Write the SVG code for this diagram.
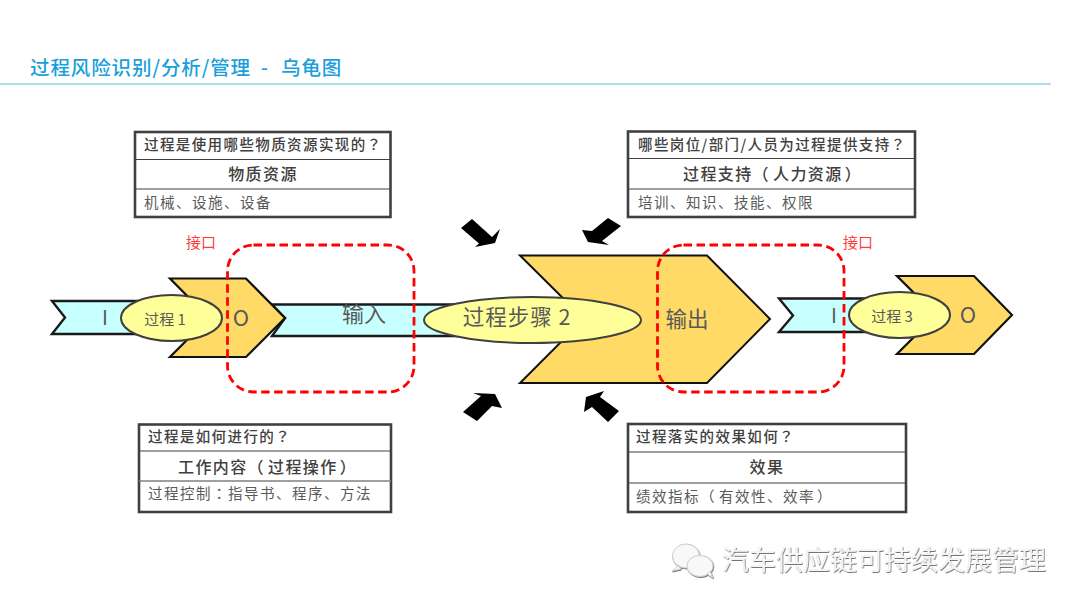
<svg xmlns="http://www.w3.org/2000/svg" width="1080" height="608" viewBox="0 0 1080 608">
<style>
text{font-family:"Noto Sans CJK SC","Noto Sans",sans-serif;fill:#404040}
.band{fill:#c8ffff;stroke:#1a1a1a;stroke-width:2.4}
.chev{fill:#ffda66;stroke:#111;stroke-width:2.2}
.ell{fill:#ffff99;stroke:#404040;stroke-width:2}
.iface{fill:none;stroke:#ff0000;stroke-width:2.8;stroke-dasharray:8.500 4.500}
.arrow{fill:#000}
.box{fill:#fff;stroke:#404040;stroke-width:2.6}
.div{stroke:#404040;stroke-width:1.2}
.q{font-size:14.5px;letter-spacing:1.4px;font-weight:500}
.h{font-size:16px;letter-spacing:1.4px;text-anchor:middle;font-weight:500}
.hs{font-size:16px;letter-spacing:1.4px;font-weight:500}
.d{font-size:14.5px;letter-spacing:1.5px;fill:#595959}
.p{font-family:"Noto Sans CJK TC","Noto Sans",sans-serif}
.lab{fill:#595959}
.red{font-size:15px;fill:#ff3b3b}
.mark{font-size:27px;fill:#f4f4f4}
</style>
<defs>
<filter id="emboss" x="-5%" y="-20%" width="110%" height="140%"><feDropShadow dx="0.6" dy="0.8" stdDeviation="0.5" flood-color="#555"/></filter>
</defs>
<rect width="1080" height="608" fill="#fff"/>
<g id="title">
<text x="30" y="75" font-size="19.5" letter-spacing="0.9" font-weight="500" style="fill:#1a9fdc">过程风险识别/分析/管理<tspan x="261" style="fill:#1a9fdc">-</tspan><tspan x="281" style="fill:#1a9fdc">乌龟图</tspan></text>
<line x1="0" y1="84" x2="1051" y2="84" stroke="#8bd5ee" stroke-width="1.6"/>
</g>
<g id="connectors">
<polygon class="arrow" points="461,228 472,219 492,237 500,229 495,243 475,247 479,243.500"/>
<polygon class="arrow" points="621,226 608,218 592,231 582,230 588,242 609,245 602,241"/>
<polygon class="arrow" points="463,412 477,421 492,406 502,408 495,394 473,393 481,396"/>
<polygon class="arrow" points="619,411 608,422 592,407 584,412 586,397 604,391 600,397"/>
</g>
<g id="process-1">
<polygon class="band" points="52,301 180,301 180,334 52,334 65,317.500"/>
<polygon class="band" points="272,304.500 470,304.500 470,336 272,336 285,318"/>
<polygon class="chev" points="170,278.500 246,278.500 285,318 246,357 170,357 209,318"/>
<ellipse class="ell" cx="171.500" cy="318" rx="50.500" ry="23"/>
<text class="lab" x="105" y="325" font-size="20" text-anchor="middle">I</text>
<text class="lab" x="165" y="325" font-size="15" text-anchor="middle">过程 1</text>
<text class="lab" x="241" y="326" font-size="22" text-anchor="middle">O</text>
<text class="lab" x="364" y="322" font-size="22" text-anchor="middle">输入</text>
</g>
<g id="process-2">
<polygon class="chev" points="520,255.500 707,255.500 770,319 707,383 520,383 584,319" style="stroke-width:2"/>
<ellipse class="ell" cx="532.500" cy="320" rx="108.500" ry="23"/>
<text class="lab" x="517" y="325" font-size="21.500" letter-spacing="1" text-anchor="middle">过程步骤 2</text>
<text class="lab" x="687" y="326.500" font-size="21.500" text-anchor="middle">输出</text>
</g>
<g id="process-3">
<polygon class="band" points="779,298.500 910,298.500 910,332 779,332 793,315.500"/>
<polygon class="chev" points="897,276 974,276 1012,315 974,354 897,354 936,315"/>
<ellipse class="ell" cx="899.500" cy="315" rx="50.500" ry="23"/>
<text class="lab" x="834" y="323" font-size="20" text-anchor="middle">I</text>
<text class="lab" x="892" y="322" font-size="15" text-anchor="middle">过程 3</text>
<text class="lab" x="968" y="323" font-size="22" text-anchor="middle">O</text>
</g>
<g id="interface-1">
<rect class="iface" x="227.500" y="245" width="186.500" height="147" rx="26"/>
<text class="red" x="186" y="247.500">接口</text>
</g>
<g id="interface-2">
<rect class="iface" x="657.500" y="245" width="186.500" height="147" rx="26"/>
<text class="red" x="843" y="247.500">接口</text>
</g>
<g id="box-resource">
<rect class="box" x="135" y="132" width="255.500" height="85"/>
<line class="div" x1="135" y1="159.500" x2="390" y2="159.500"/>
<line class="div" x1="135" y1="189" x2="390" y2="189"/>
<text class="q" x="144" y="150">过程是使用哪些物质资源实现的<tspan class="p">？</tspan></text>
<text class="h" x="263" y="180">物质资源</text>
<text class="d" x="144" y="207.500">机械、设施、设备</text>
</g>
<g id="box-support">
<rect class="box" x="628" y="131.500" width="287" height="85.500"/>
<line class="div" x1="628" y1="158.500" x2="915" y2="158.500"/>
<line class="div" x1="628" y1="189" x2="915" y2="189"/>
<text class="q" x="638" y="150">哪些岗位/部门/人员为过程提供支持<tspan class="p">？</tspan></text>
<text class="hs" x="683" y="180">过程支持（<tspan dx="3">人力资源</tspan><tspan dx="2">）</tspan></text>
<text class="d" x="638" y="208">培训、知识、技能、权限</text>
</g>
<g id="box-method">
<rect class="box" x="139" y="424.500" width="252" height="87.500"/>
<line class="div" x1="139" y1="451" x2="391" y2="451"/>
<line class="div" x1="139" y1="481" x2="391" y2="481" style="stroke:#808080;stroke-width:1.6"/>
<text class="q" x="148" y="442">过程是如何进行的<tspan class="p">？</tspan></text>
<text class="hs" x="178" y="472.500">工作内容（<tspan dx="3">过程操作</tspan><tspan dx="2">）</tspan></text>
<text class="d" x="148" y="499">过程控制<tspan class="p">：</tspan>指导书、程序、方法</text>
</g>
<g id="box-effect">
<rect class="box" x="628" y="424" width="278" height="88"/>
<line class="div" x1="628" y1="452" x2="906" y2="452"/>
<line class="div" x1="628" y1="483" x2="906" y2="483"/>
<text class="q" x="636" y="442">过程落实的效果如何<tspan class="p">？</tspan></text>
<text class="h" x="767" y="472.500">效果</text>
<text class="d" x="636" y="502">绩效指标（<tspan dx="3">有效性、效率</tspan><tspan dx="2">）</tspan></text>
</g>
<g id="watermark" filter="url(#emboss)">
<ellipse cx="686" cy="556" rx="13.500" ry="12" fill="#f8f8f8" stroke="#ccc" stroke-width="1"/>
<path d="M678 566l-6 5 9-2z" fill="#f8f8f8" stroke="#ccc" stroke-width="1"/>
<ellipse cx="700" cy="566" rx="13" ry="10.500" fill="#f8f8f8" stroke="#ccc" stroke-width="1"/>
<path d="M707 574l6 4-3-7z" fill="#f8f8f8" stroke="#ccc" stroke-width="1"/>
<text class="mark" x="722" y="570">汽车供应链可持续发展管理</text>
</g>
</svg>
